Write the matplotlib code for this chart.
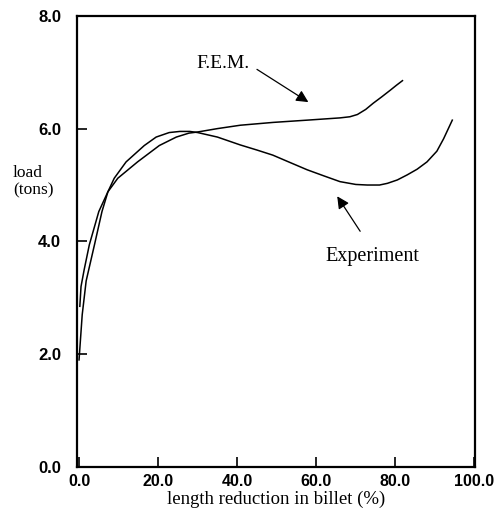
from matplotlib import pyplot as plt

# values (length reduction %, load tons)
exp_x = [0.2, 0.5, 1.3, 2.6, 5.0, 7.3, 8.9, 11.9, 16.5, 19.5, 22.8, 25.5, 28.0, 30.0,
         35.0, 40.8, 45.0, 49.0, 53.0, 57.7, 62.0, 66.0, 70.0, 72.9, 76.0, 78.0,
         80.5, 83.0, 85.5, 88.0, 90.5, 92.2, 94.4]
exp_y = [2.85, 3.2, 3.5, 3.94, 4.53, 4.88, 5.12, 5.41, 5.70, 5.85, 5.93, 5.95, 5.95, 5.93,
         5.85, 5.71, 5.62, 5.53, 5.41, 5.27, 5.16, 5.06, 5.01, 5.0, 5.0, 5.03,
         5.09, 5.18, 5.28, 5.41, 5.6, 5.82, 6.15]

fem_x = [0.0, 0.8, 1.8, 3.9, 5.8, 7.3, 9.8, 14.8, 20.3, 24.6, 27.8, 30.0,
         35.0, 40.8, 49.1, 57.7, 66.0, 68.5, 70.4, 72.5, 74.4, 76.5, 78.7, 80.3, 81.8]
fem_y = [1.9, 2.7, 3.3, 3.94, 4.53, 4.88, 5.12, 5.41, 5.70, 5.85, 5.92, 5.94,
         6.0, 6.06, 6.11, 6.15, 6.19, 6.21, 6.25, 6.34, 6.45, 6.56, 6.68, 6.77, 6.85]

x_ticks = [0, 20, 40, 60, 80, 100]
y_ticks = [0, 2, 4, 6, 8]

serif = ['Liberation Serif', 'DejaVu Serif']
x_tick_font = dict(family='Liberation Sans', weight='bold', size=11.5)
y_tick_font = dict(family='Liberation Sans', weight='bold', size=12)

fig = plt.figure(figsize=(4.94, 5.26), dpi=100)
ax = fig.add_axes([0.156, 0.112, 0.806, 0.858])

ax.plot(exp_x, exp_y, color='black', lw=1.1)
ax.plot(fem_x, fem_y, color='black', lw=1.1)

ax.set_xlim(-0.5, 100.2)
ax.set_ylim(0, 7.95)
ax.set_xticks(x_ticks)
ax.set_yticks(y_ticks)
ax.set_xticklabels([f"{v:.1f}" for v in x_ticks], fontdict=x_tick_font)
ax.set_yticklabels([f"{v:.1f}" for v in y_ticks], fontdict=y_tick_font)
ax.tick_params(direction='in', length=7, width=1.2)
ax.tick_params(axis='y', pad=11.5)
ax.tick_params(axis='x', pad=5)
for s in ax.spines.values():
    s.set_linewidth(1.6)

ax.set_xlabel("length reduction in billet (%)", family=serif, size=13.5, labelpad=1)
fig.text(0.026, 0.655, "load\n(tons)", family=serif, size=12.5,
         ha='left', va='center', linespacing=1.1)

arrow = dict(arrowstyle='-|>', color='black', lw=0.9, mutation_scale=18,
             shrinkA=0, shrinkB=0)
ax.text(36.5, 7.15, "F.E.M.", family=serif, size=14, ha='center', va='center')
ax.annotate("", xy=(58.0, 6.47), xytext=(45.0, 7.05), arrowprops=arrow)
ax.annotate("", xy=(65.3, 4.8), xytext=(71.1, 4.18), arrowprops=arrow)
ax.text(74.2, 3.74, "Experiment", family=serif, size=14.5, ha='center', va='center')

fig.savefig("out.png", dpi=100)
